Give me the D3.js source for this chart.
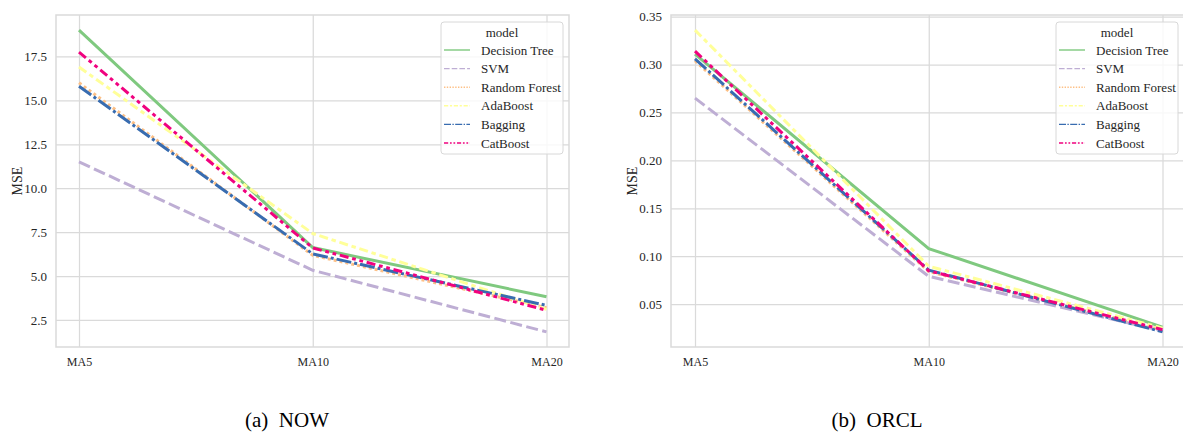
<!DOCTYPE html>
<html>
<head>
<meta charset="utf-8">
<script src="https://cdn.jsdelivr.net/npm/d3@7"></script>
<style>
  body { margin: 0; background: #fff; }
  svg { display: block; font-family: 'Liberation Serif', 'Times New Roman', serif; }
</style>
</head>
<body>
<div class="chart-container"></div>
<script>
// . . . data

const windows = ['MA5', 'MA10', 'MA20'];
const models = ['Decision Tree', 'SVM', 'Random Forest', 'AdaBoost', 'Bagging', 'CatBoost'];
const modelColors = ['#7fc97f', '#beaed4', '#fdc086', '#ffff99', '#386cb0', '#f0027f'];
// seaborn default dash specs (multiplied by line width)
const modelDashes = [null, [4, 1.5], [1, 1], [3, 1.25, 1.5, 1.25], [5, 1, 1, 1], [3, 1.25, 1.25, 1.25, 1.25, 1.25]];

// NOW
const nowDecisionTree = [19.0, 6.62, 3.82];
const nowSVM = [11.5, 5.33, 1.82];
const nowRandomForest = [16.0, 6.18, 3.2];
const nowAdaBoost = [16.9, 7.42, 3.1];
const nowBagging = [15.8, 6.26, 3.33];
const nowCatBoost = [17.75, 6.6, 3.05];
const nowTicks = [2.5, 5.0, 7.5, 10.0, 12.5, 15.0, 17.5];

// ORCL
const orclDecisionTree = [0.311, 0.108, 0.026];
const orclSVM = [0.265, 0.079, 0.022];
const orclRandomForest = [0.304, 0.084, 0.023];
const orclAdaBoost = [0.336, 0.0895, 0.025];
const orclBagging = [0.306, 0.0855, 0.021];
const orclCatBoost = [0.314, 0.0848, 0.0234];
const orclTicks = [0.05, 0.10, 0.15, 0.20, 0.25, 0.30, 0.35];

const W = 1183, H = 433;
const serif = "'Liberation Serif', 'Times New Roman', serif";
const svg = d3.select('.chart-container')
    .append('svg')
    .attr('width', W)
    .attr('height', H);

const gridColor = '#dadada';
const textColor = '#262626';

function drawPanel(opt) {
    const g = svg.append('g');
    const series = opt.series;

    const allVals = series.flat();
    const lo = d3.min(allVals), hi = d3.max(allVals);
    const pad = (hi - lo) * 0.05;

    const x = d3.scalePoint()
        .domain(windows)
        .range([opt.x0, opt.x2]);

    const y = d3.scaleLinear()
        .domain([lo - pad, hi + pad])
        .range([opt.bottom, opt.top]);

    // y gridlines
    g.append('g')
        .attr('class', 'grid')
        .attr('transform', `translate(${opt.left}, 0)`)
        .call(d3.axisLeft(y).tickValues(opt.ticks)
            .tickSize(-(opt.right - opt.left))
            .tickFormat(''))
        .call(a => a.select('.domain').remove())
        .call(a => a.selectAll('line').attr('stroke', gridColor).attr('stroke-width', 1.25));

    // x gridlines
    g.append('g')
        .attr('class', 'grid')
        .attr('transform', `translate(0, ${opt.bottom})`)
        .call(d3.axisBottom(x)
            .tickSize(-(opt.bottom - opt.top))
            .tickFormat(''))
        .call(a => a.select('.domain').remove())
        .call(a => a.selectAll('line').attr('stroke', gridColor).attr('stroke-width', 1.25));

    // frame
    g.append('rect')
        .attr('x', opt.left)
        .attr('y', opt.top)
        .attr('width', opt.right - opt.left)
        .attr('height', opt.bottom - opt.top)
        .attr('fill', 'none')
        .attr('stroke', gridColor)
        .attr('stroke-width', 1.5);

    // tick labels
    g.append('g')
        .attr('transform', `translate(${opt.left}, 0)`)
        .call(d3.axisLeft(y).tickValues(opt.ticks).tickSize(0).tickPadding(9)
            .tickFormat(d3.format(opt.fmt)))
        .call(a => a.select('.domain').remove())
        .selectAll('text')
        .style('font-family', serif)
        .style('font-size', '13px')
        .attr('fill', textColor);

    g.append('g')
        .attr('transform', `translate(0, ${opt.bottom})`)
        .call(d3.axisBottom(x).tickSize(0).tickPadding(10))
        .call(a => a.select('.domain').remove())
        .selectAll('text')
        .style('font-family', serif)
        .style('font-size', '12px')
        .attr('fill', textColor);

    // y label
    g.append('text')
        .attr('transform', `translate(${opt.ylabelX}, ${(opt.top + opt.bottom) / 2}) rotate(-90)`)
        .attr('text-anchor', 'middle')
        .attr('dy', '0.35em')
        .style('font-family', serif)
        .style('font-size', '14px')
        .attr('fill', textColor)
        .text('MSE');

    // lines
    const lw = 3;
    const line = d3.line()
        .x((d, i) => x(windows[i]))
        .y(d => y(d));

    g.selectAll('.series')
        .data(series)
        .enter()
        .append('path')
        .attr('class', 'series')
        .attr('d', d => line(d))
        .attr('fill', 'none')
        .attr('stroke', (d, i) => modelColors[i])
        .attr('stroke-width', lw)
        .attr('stroke-dasharray', (d, i) => modelDashes[i] ? modelDashes[i].map(v => v * lw).join(',') : null);

    // legend
    const lg = g.append('g')
        .attr('transform', `translate(${opt.legendX}, ${opt.top + 7})`);

    lg.append('rect')
        .attr('width', 122)
        .attr('height', 132)
        .attr('rx', 3)
        .attr('fill', 'white')
        .attr('fill-opacity', 0.8)
        .attr('stroke', '#d8d8d8')
        .attr('stroke-width', 1);

    lg.append('text')
        .attr('x', 61)
        .attr('y', 15)
        .attr('text-anchor', 'middle')
        .style('font-family', serif)
        .style('font-size', '13px')
        .attr('fill', textColor)
        .text('model');

    const llw = 1.4;
    const items = lg.selectAll('.item')
        .data(models)
        .enter()
        .append('g')
        .attr('class', 'item')
        .attr('transform', (d, i) => `translate(0, ${28 + i * 18.6})`);

    items.append('line')
        .attr('x1', 3)
        .attr('x2', 29)
        .attr('stroke', (d, i) => modelColors[i])
        .attr('stroke-width', llw)
        .attr('stroke-dasharray', (d, i) => modelDashes[i] ? modelDashes[i].map(v => v * llw).join(',') : null);

    items.append('text')
        .attr('x', 40)
        .attr('dy', '0.35em')
        .style('font-family', serif)
        .style('font-size', '13px')
        .attr('fill', textColor)
        .text(d => d);

    // caption
    svg.append('text')
        .attr('x', opt.captionX)
        .attr('y', 427)
        .attr('text-anchor', 'middle')
        .style('font-family', serif)
        .style('font-size', '21px')
        .style('white-space', 'pre')
        .attr('fill', '#000')
        .text(opt.caption);
}

drawPanel({
    series: [nowDecisionTree, nowSVM, nowRandomForest, nowAdaBoost, nowBagging, nowCatBoost],
    ticks: nowTicks,
    fmt: '.1f',
    left: 56, right: 569, top: 15, bottom: 347,
    x0: 79, x2: 546.5,
    ylabelX: 17,
    legendX: 441,
    caption: '(a)  NOW',
    captionX: 287
});

drawPanel({
    series: [orclDecisionTree, orclSVM, orclRandomForest, orclAdaBoost, orclBagging, orclCatBoost],
    ticks: orclTicks,
    fmt: '.2f',
    left: 671, right: 1187, top: 15, bottom: 347,
    x0: 695, x2: 1162.5,
    ylabelX: 632,
    legendX: 1056,
    caption: '(b)  ORCL',
    captionX: 877
});
</script>
</body>
</html>
